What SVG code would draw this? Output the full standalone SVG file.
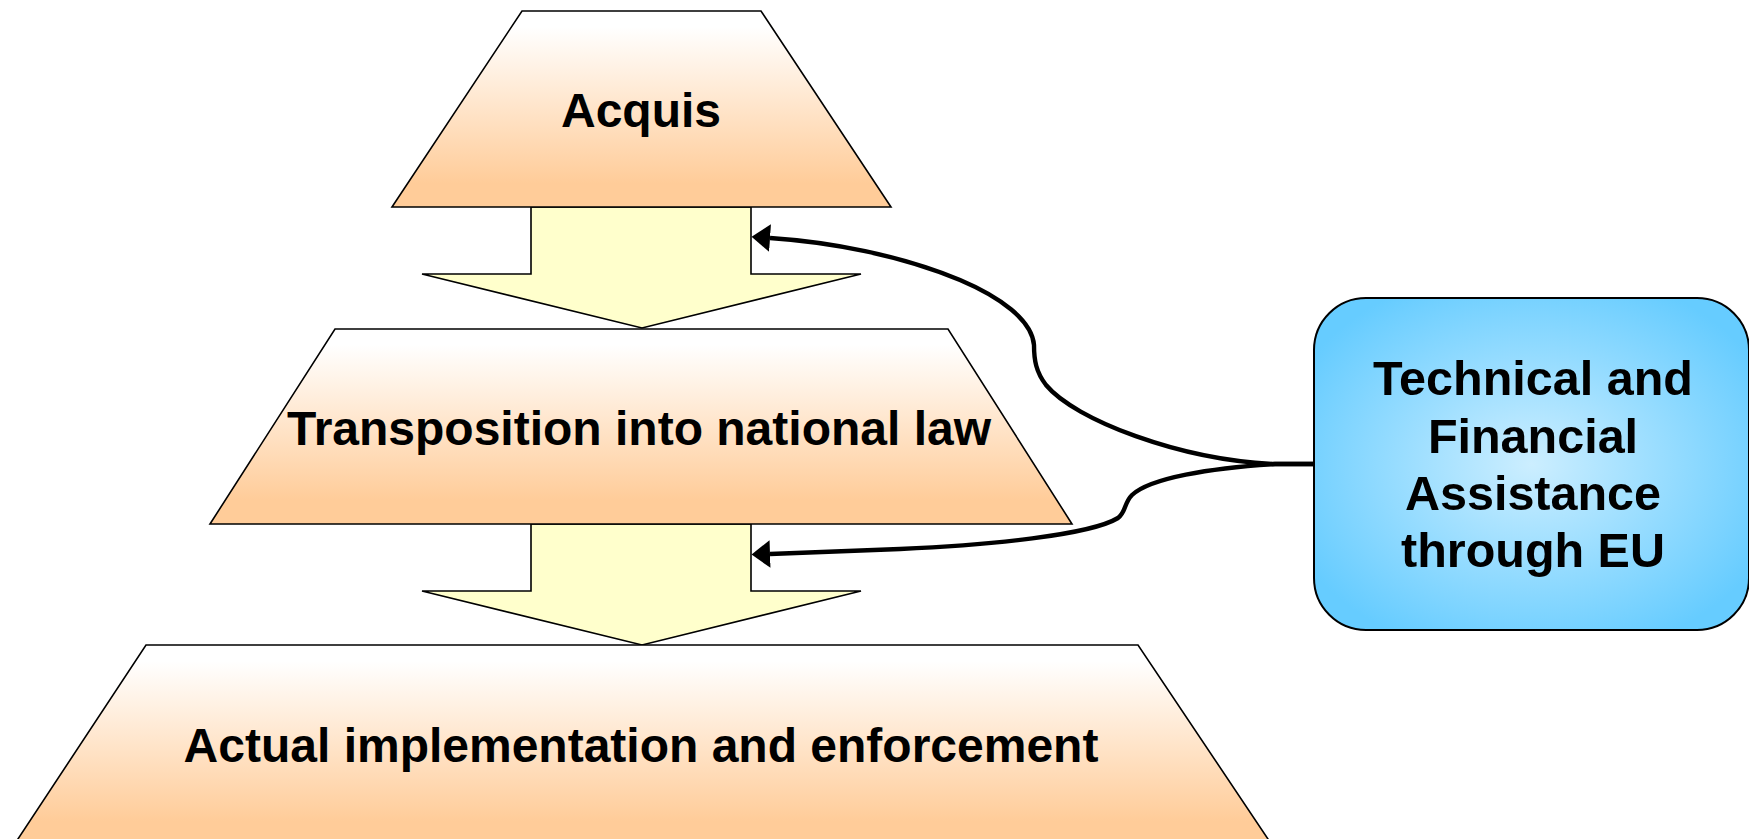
<svg xmlns="http://www.w3.org/2000/svg" width="1749" height="839" viewBox="0 0 1749 839">
<defs>
<linearGradient id="peach" x1="0" y1="0" x2="0" y2="1">
<stop offset="0.08" stop-color="#FFFFFF"/>
<stop offset="0.88" stop-color="#FFCC99"/>
</linearGradient>
<radialGradient id="blue" cx="0.5" cy="0.5" r="0.6">
<stop offset="0" stop-color="#CCEEFF"/>
<stop offset="1" stop-color="#66CCFF"/>
</radialGradient>
<marker id="ah" markerUnits="userSpaceOnUse" markerWidth="20" markerHeight="30" viewBox="0 -13 17 26" refX="0" refY="0" orient="auto">
<path d="M0,-12 L16,0 L0,12 z" fill="#000"/>
</marker>
<style>
.trap{fill:url(#peach);stroke:#000;stroke-width:1.6;stroke-linejoin:miter}
.arrow{fill:#FFFFCC;stroke:#000;stroke-width:1.6}
.lbl{font-family:"Liberation Sans",Arial,sans-serif;font-weight:bold;font-size:48px;fill:#000;text-anchor:middle}
.box{font-size:48.5px}
.conn{fill:none;stroke:#000;stroke-width:4.4;stroke-linecap:butt}
</style>
</defs>
<rect width="1749" height="839" fill="#FFFFFF"/>
<g id="arrow1"><polygon class="arrow" points="531,207 751,207 751,274 861,274 642,328 422,274 531,274"/></g>
<g id="arrow2"><polygon class="arrow" points="531,524 751,524 751,591 861,591 642,645 422,591 531,591"/></g>
<g id="acquis">
<polygon class="trap" points="522,11 761,11 891,207 392,207"/>
<text class="lbl" x="641" y="127">Acquis</text>
</g>
<g id="transposition">
<polygon class="trap" points="335,329 948,329 1072,524 210,524"/>
<text class="lbl" x="639" y="445">Transposition into national law</text>
</g>
<g id="implementation">
<polygon class="trap" points="146,645 1138,645 1272,845 14,845"/>
<text class="lbl" x="641" y="762">Actual implementation and enforcement</text>
</g>
<g id="assistance">
<rect x="1314" y="298" width="435" height="332" rx="52" ry="52" fill="url(#blue)" stroke="#000" stroke-width="2"/>
<text class="lbl box" x="1533" y="395">Technical and</text>
<text class="lbl box" x="1533" y="453">Financial</text>
<text class="lbl box" x="1533" y="510">Assistance</text>
<text class="lbl box" x="1533" y="567">through EU</text>
</g>
<g id="connectors">
<path class="conn" marker-end="url(#ah)" d="M1314,464 L1275,464 C1180,460 1075,420 1046,385 C1036,372 1034,360 1034,345 C1032,320 1000,297 960,280 C900,255 830,242 770,238"/>
<path class="conn" marker-end="url(#ah)" d="M1314,464 L1275,464 C1210,468 1150,478 1132,495 C1124,503 1126,512 1118,518 C1090,535 990,545 900,549 C850,551 800,553 770,554"/>
</g>
</svg>
